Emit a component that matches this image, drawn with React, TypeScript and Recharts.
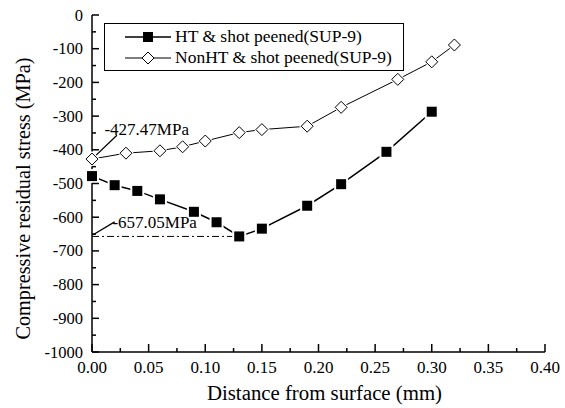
import React from 'react';
import { LineChart, Line, XAxis, YAxis, Legend, ReferenceLine, ReferenceDot } from 'recharts';

const htX = [0, 0.02, 0.04, 0.06, 0.09, 0.11, 0.13, 0.15, 0.19, 0.22, 0.26, 0.30];
const htY = [-478, -505, -522, -547, -584, -615, -657.05, -634, -566, -502, -406, -287];
const nonX = [0, 0.03, 0.06, 0.08, 0.10, 0.13, 0.15, 0.19, 0.22, 0.27, 0.30, 0.32];
const nonY = [-427.47, -410, -403, -391, -374, -349, -340, -330, -274, -191, -139, -89];
const xTicks = [0, 0.025, 0.05, 0.075, 0.1, 0.125, 0.15, 0.175, 0.2, 0.225, 0.25, 0.275, 0.3, 0.325, 0.35, 0.375, 0.4];
const yTicks = [-1000, -950, -900, -850, -800, -750, -700, -650, -600, -550, -500, -450, -400, -350, -300, -250, -200, -150, -100, -50, 0];
const seriesNames = ['HT & shot peened(SUP-9)', 'NonHT & shot peened(SUP-9)'];
const annotations = [
  { text: '-427.47MPa', from: [0.003, -418], to: [0.022, -357], at: [0.011, -338] },
  { text: '-657.05MPa', from: [0.001, -652], to: [0.02, -614], at: [0.018, -614] },
];

const htData = htX.map((x, i) => ({ x, y: htY[i] }));
const nonData = nonX.map((x, i) => ({ x, y: nonY[i] }));

const FONT = '"Liberation Serif", "Times New Roman", serif';

const SquareDot = (props: any) => {
  const { cx, cy } = props;
  if (cx == null || cy == null) return null;
  return (
    <g>
      <rect x={cx - 7} y={cy - 7} width={14} height={14} fill="#fff" />
      <rect x={cx - 5} y={cy - 5} width={10} height={10} fill="#000" />
    </g>
  );
};

const DiamondDot = (props: any) => {
  const { cx, cy } = props;
  if (cx == null || cy == null) return null;
  return (
    <g>
      <path d={`M${cx},${cy - 8} L${cx + 8},${cy} L${cx},${cy + 8} L${cx - 8},${cy} Z`} fill="#fff" />
      <path d={`M${cx},${cy - 6} L${cx + 6},${cy} L${cx},${cy + 6} L${cx - 6},${cy} Z`} fill="#fff" stroke="#000" strokeWidth={1} />
    </g>
  );
};

const Y_MARGIN = 9;
const X_MARGIN = 3;

const YTick = (props: any) => {
  const { x, y, payload } = props;
  const v = payload.value;
  const major = v % 100 === 0;
  const ax = x + Y_MARGIN;
  return (
    <g>
      <line x1={ax} x2={ax + (major ? 7 : 4)} y1={y} y2={y} stroke="#000" strokeWidth={1.5} />
      {major && (
        <text x={x} y={y} dy={5.5} textAnchor="end" style={{ fontFamily: FONT, fontSize: 16.5 }} fill="#000">
          {v}
        </text>
      )}
    </g>
  );
};

const XTick = (props: any) => {
  const { x, y, payload } = props;
  const v = payload.value;
  const major = Math.abs(Math.round(v * 1000) % 50) === 0;
  const ay = y - X_MARGIN;
  return (
    <g>
      <line x1={x} x2={x} y1={ay} y2={ay - (major ? 8 : 4)} stroke="#000" strokeWidth={1.5} />
      {major && (
        <text x={x} y={y} dy={18} textAnchor="middle" style={{ fontFamily: FONT, fontSize: 17 }} fill="#000">
          {v.toFixed(2)}
        </text>
      )}
    </g>
  );
};

const LegendContent = () => (
  <div
    style={{
      border: '1px solid #000',
      background: '#fff',
      width: 300,
      height: 48,
      boxSizing: 'border-box',
      padding: '2px 0 0 18px',
      fontFamily: FONT,
      fontSize: 17.5,
      lineHeight: '21px',
      color: '#000',
      textAlign: 'left',
    }}
  >
    {seriesNames.map((n, i) => (
      <div key={n} style={{ display: 'flex', alignItems: 'center', height: 21, whiteSpace: 'nowrap' }}>
        <svg width={50} height={16} style={{ marginRight: 2 }}>
          <line x1={2} x2={48} y1={8} y2={8} stroke="#000" strokeWidth={i === 0 ? 1.5 : 1} />
          {i === 0 ? (
            <rect x={20} y={3} width={10} height={10} fill="#000" />
          ) : (
            <path d="M25,2 L31,8 L25,14 L19,8 Z" fill="#fff" stroke="#000" strokeWidth={1} />
          )}
        </svg>
        <span>{n}</span>
      </div>
    ))}
  </div>
);

const YLabel = (props: any) => {
  const vb = props.viewBox;
  const cx = vb.x + 25;
  const cy = vb.y + vb.height / 2 + 15;
  return (
    <text x={cx} y={cy} textAnchor="middle" dominantBaseline="middle" transform={`rotate(-90, ${cx}, ${cy})`} style={{ fontFamily: FONT, fontSize: 20.3 }} fill="#000">
      Compressive residual stress (MPa)
    </text>
  );
};

const XLabel = (props: any) => {
  const vb = props.viewBox;
  const cx = vb.x + vb.width / 2 + 6;
  return (
    <text x={cx} y={vb.y + 43} textAnchor="middle" dominantBaseline="middle" style={{ fontFamily: FONT, fontSize: 20.8 }} fill="#000">
      Distance from surface (mm)
    </text>
  );
};

export default function App() {
  return (
    <div style={{ position: 'absolute', left: 0, top: 0, width: 565, height: 408, background: '#fff' }}>
      <LineChart width={565} height={408} margin={{ top: 15, right: 20, left: 0, bottom: 0 }} style={{ fontFamily: FONT }}>
        <XAxis
          type="number"
          dataKey="x"
          xAxisId="b"
          domain={[0, 0.4]}
          ticks={xTicks}
          interval={0}
          height={56}
          tickLine={false}
          tickSize={0}
          tickMargin={X_MARGIN}
          tick={<XTick />}
          axisLine={{ stroke: '#000', strokeWidth: 1.5 }}
          label={<XLabel />}
        />
        <XAxis type="number" xAxisId="t" orientation="top" domain={[0, 0.4]} height={0} tick={false} tickLine={false} axisLine={{ stroke: '#000', strokeWidth: 1.5 }} />
        <YAxis
          type="number"
          dataKey="y"
          yAxisId="l"
          domain={[-1000, 0]}
          ticks={yTicks}
          interval={0}
          width={92}
          tickLine={false}
          tickSize={0}
          tickMargin={Y_MARGIN}
          tick={<YTick />}
          axisLine={{ stroke: '#000', strokeWidth: 1.5 }}
          label={<YLabel />}
        />
        <YAxis type="number" yAxisId="r" orientation="right" domain={[-1000, 0]} width={0} tick={false} tickLine={false} axisLine={{ stroke: '#000', strokeWidth: 1.5 }} />
        <Legend
          layout="horizontal"
          verticalAlign="middle"
          align="center"
          content={<LegendContent />}
          wrapperStyle={{ position: 'absolute', left: 104, top: 23, width: 300, height: 48 }}
        />
        <ReferenceLine
          xAxisId="b"
          yAxisId="l"
          segment={[{ x: 0, y: -657.05 }, { x: 0.13, y: -657.05 }]}
          stroke="#000"
          strokeWidth={1}
          strokeDasharray="7 3 2 3"
        />
        {annotations.map((a) => (
          <ReferenceLine
            key={a.text + 'l'}
            xAxisId="b"
            yAxisId="l"
            segment={[{ x: a.from[0], y: a.from[1] }, { x: a.to[0], y: a.to[1] }]}
            stroke="#000"
            strokeWidth={1.3}
            ifOverflow="visible"
          />
        ))}
        {annotations.map((a) => (
          <ReferenceDot
            key={a.text}
            xAxisId="b"
            yAxisId="l"
            x={a.at[0]}
            y={a.at[1]}
            r={0}
            fill="none"
            stroke="none"
            label={{ value: a.text, position: 'right', offset: 0, style: { fontFamily: FONT, fontSize: 17 }, fill: '#000' }}
          />
        ))}
        <Line
          xAxisId="b"
          yAxisId="l"
          data={nonData}
          dataKey="y"
          name={seriesNames[1]}
          stroke="#000"
          strokeWidth={1}
          dot={<DiamondDot />}
          activeDot={false}
          isAnimationActive={false}
        />
        <Line
          xAxisId="b"
          yAxisId="l"
          data={htData}
          dataKey="y"
          name={seriesNames[0]}
          stroke="#000"
          strokeWidth={1.5}
          dot={<SquareDot />}
          activeDot={false}
          isAnimationActive={false}
        />
      </LineChart>
    </div>
  );
}
